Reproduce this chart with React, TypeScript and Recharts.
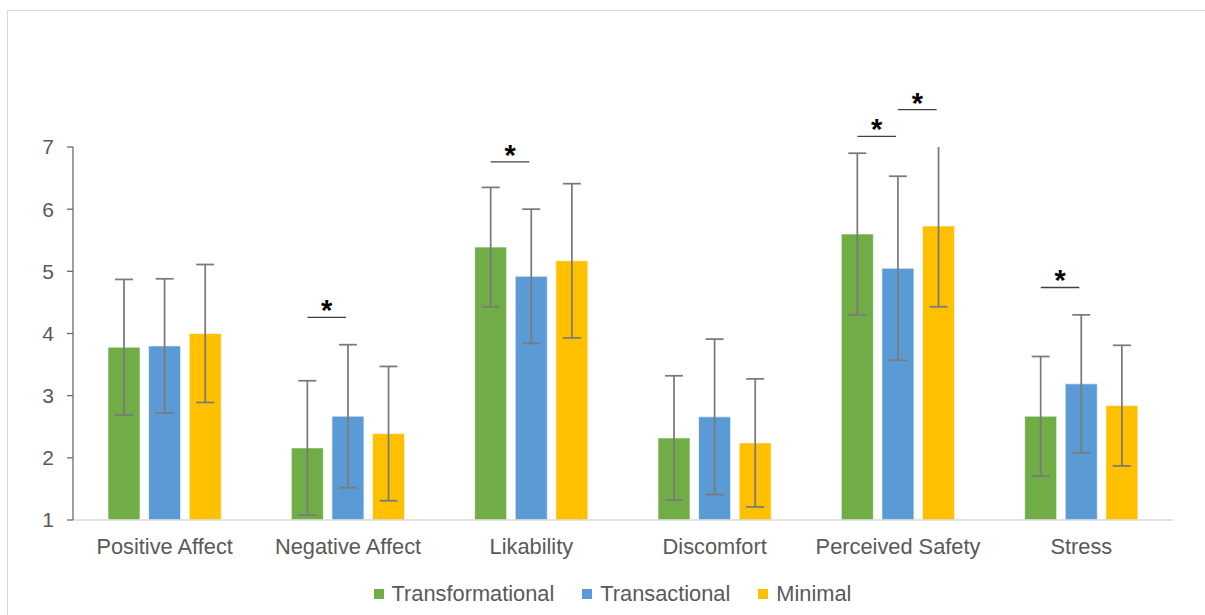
import React from 'react';
import { BarChart, Bar, XAxis, YAxis, ErrorBar, Legend, ReferenceLine, ReferenceArea } from 'recharts';

const categories = ['Positive Affect', 'Negative Affect', 'Likability', 'Discomfort', 'Perceived Safety', 'Stress'];
const transformational = [3.78, 2.16, 5.39, 2.32, 5.6, 2.67];
const transformationalSd = [1.09, 1.08, 0.96, 1.0, 1.3, 0.96];
const transactional = [3.8, 2.67, 4.92, 2.66, 5.05, 3.19];
const transactionalSd = [1.08, 1.15, 1.08, 1.25, 1.48, 1.11];
const minimal = [4.0, 2.39, 5.17, 2.24, 5.73, 2.84];
const minimalSd = [1.11, 1.08, 1.24, 1.03, 1.3, 0.97];
const yTicks = [1, 2, 3, 4, 5, 6, 7];
const Y_MAX = 7;

// significant pairs: category index, series from/to, height of the bracket
const sigCategory = [1, 2, 4, 4, 5];
const sigFrom = [0, 0, 0, 1, 0];
const sigTo = [1, 1, 1, 2, 1];
const sigLevel = [4.26, 6.76, 7.17, 7.6, 4.74];

const series = [
  { key: 'transformational', name: 'Transformational', color: '#70ad47', values: transformational, sd: transformationalSd },
  { key: 'transactional', name: 'Transactional', color: '#5b9bd5', values: transactional, sd: transactionalSd },
  { key: 'minimal', name: 'Minimal', color: '#ffc000', values: minimal, sd: minimalSd },
];

const data = categories.map((c, i) => ({
  category: c,
  pos: i + 0.5,
  transformational: transformational[i],
  transformationalSd: transformationalSd[i],
  transactional: transactional[i],
  transactionalSd: transactionalSd[i],
  minimal: minimal[i],
  minimalSd: minimalSd[i],
}));

const W = 1197;
const H = 604;
const M = { top: 136, right: 32, left: 0, bottom: 25 };
const Y_W = 65;
const BAR = 32;
const GAP = 8.6;
const FONT = 'Arial, "Liberation Sans", sans-serif';

// bar centre in category units, for the bracket ends
const catW = (W - M.left - M.right - Y_W) / categories.length;
const barCentre = (i: number, s: number) =>
  i + ((catW - (3 * BAR + 2 * GAP)) / 2 + s * (BAR + GAP) + BAR / 2) / catW;

// error bars that run past the top of the axis lose their cap, as in Excel
const clipped: { i: number; s: number }[] = [];
series.forEach((s, si) =>
  s.values.forEach((v, i) => {
    if (v + s.sd[i] > Y_MAX) clipped.push({ i, s: si });
  })
);

const renderLegend = () => (
  <div style={{ display: 'flex', justifyContent: 'center', alignItems: 'center', height: 30, fontFamily: FONT, fontSize: 21.8, color: '#595959' }}>
    {series.map((s) => (
      <span key={s.key} style={{ display: 'flex', alignItems: 'center', margin: '0 14px' }}>
        <span style={{ width: 10, height: 10, background: s.color, marginRight: 8, display: 'inline-block' }} />
        {s.name}
      </span>
    ))}
  </div>
);

export default function App() {
  return (
    <div style={{ position: 'fixed', left: 7, top: 10, width: 1198, height: 605, borderLeft: '1px solid #d9d9d9', borderTop: '1px solid #d9d9d9', background: '#fff' }}>
      <BarChart width={W} height={H} data={data} margin={M} barSize={BAR} barGap={GAP}>
        <XAxis
          dataKey="category"
          tickLine={false}
          tickSize={0}
          tickMargin={19}
          height={40}
          axisLine={{ stroke: '#d9d9d9', strokeWidth: 1.5 }}
          tick={{ fill: '#595959', fontSize: 21.8, fontFamily: FONT }}
          interval={0}
        />
        <XAxis xAxisId="pos" dataKey="pos" type="number" domain={[0, categories.length]} hide allowDataOverflow />
        <YAxis
          domain={[1, Y_MAX]}
          ticks={yTicks}
          allowDataOverflow
          width={Y_W}
          tickSize={6}
          tickMargin={13}
          axisLine={{ stroke: '#6b6b6b', strokeWidth: 1.3 }}
          tickLine={{ stroke: '#6b6b6b', strokeWidth: 1.3 }}
          tick={{ fill: '#595959', fontSize: 21, fontFamily: FONT }}
        />
        <Legend verticalAlign="bottom" height={30} content={renderLegend} wrapperStyle={{ left: 12, width: 1185, bottom: 6 }} />
        {series.map((s) => (
          <Bar key={s.key} dataKey={s.key} name={s.name} fill={s.color} stroke="rgba(255,255,255,0.6)" strokeWidth={1} isAnimationActive={false}>
            <ErrorBar dataKey={`${s.key}Sd`} width={9} stroke="#7a7a7a" strokeWidth={1.75} direction="y" />
          </Bar>
        ))}
        {clipped.map((c, k) => (
          <ReferenceArea
            key={`clip-${k}`}
            xAxisId="pos"
            ifOverflow="visible"
            zIndex={1500}
            x1={barCentre(c.i, c.s) - 11 / catW}
            x2={barCentre(c.i, c.s) + 11 / catW}
            y1={Y_MAX}
            y2={Y_MAX + 0.12}
            fill="#fff"
            fillOpacity={1}
            stroke="none"
          />
        ))}
        {sigCategory.map((c, k) => (
          <ReferenceLine
            key={`sig-${k}`}
            xAxisId="pos"
            ifOverflow="visible"
            segment={[
              { x: barCentre(c, sigFrom[k]), y: sigLevel[k] },
              { x: barCentre(c, sigTo[k]) - 2 / catW, y: sigLevel[k] },
            ]}
            stroke="#404040"
            strokeWidth={1.3}
            label={{ value: '*', position: 'top', offset: -3, fontSize: 29, fontWeight: 'bold', fill: '#000', fontFamily: FONT }}
          />
        ))}
      </BarChart>
    </div>
  );
}
